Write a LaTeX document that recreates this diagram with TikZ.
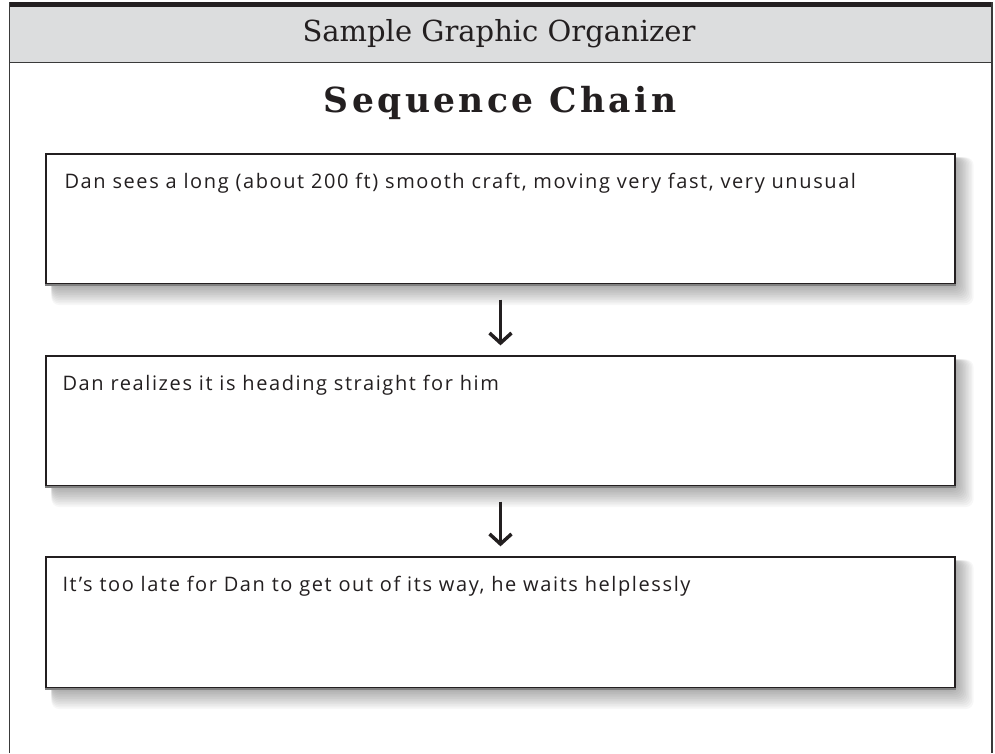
\documentclass[tikz,border=0pt]{standalone}
\usepackage{fontspec}
\usetikzlibrary{arrows.meta}
\newfontfamily\handfont[LetterSpace=8]{Open Sans}
\newfontfamily\headfont{DejaVu Serif}
\newfontfamily\titlefont[LetterSpace=10]{DejaVu Serif}
\definecolor{hdrgray}{HTML}{DCDDDE}
\definecolor{inkdark}{HTML}{231F20}
\definecolor{frameline}{HTML}{3A3A3A}
\tikzset{
  stepbox/.style={draw=inkdark, line width=1.3pt, fill=white, minimum width=909pt, minimum height=130pt, inner sep=0pt},
  boxtext/.style={anchor=west, inner sep=0pt, font=\handfont\fontsize{20}{22}\selectfont, text=inkdark},
  chainarrow/.style={draw=inkdark, line width=3.5pt, -{Straight Barb[length=10pt,width=22pt,line width=3.5pt]}, shorten <=15pt, shorten >=10pt},
}
\newcommand{\softshadow}[1]{%
  \foreach \k in {1,...,12}{
    \fill[black, opacity=0.03, rounded corners=8pt]
      ([xshift=6pt, yshift=-4pt]#1.north west) rectangle ([xshift={1.5pt*\k}, yshift={-1.7pt*\k}]#1.south east);
  }%
}
\begin{document}
\begin{tikzpicture}[x=1pt, y={(0,-1pt)}]
\useasboundingbox (0,0) rectangle (995,753);
% header
\fill[hdrgray] (9.5,7) rectangle (992,62);
\fill[inkdark] (9,2) rectangle (992.5,7);
\draw[frameline, line width=1.5pt] (9.5,62.5) -- (992,62.5);
\draw[frameline, line width=1.5pt] (9.5,2) -- (9.5,753);
\draw[frameline, line width=1.5pt] (992,2) -- (992,753);
\node[font=\headfont\fontsize{29}{32}\selectfont, text=inkdark] (hdr) at (499,34) {Sample Graphic Organizer};
\node[font=\titlefont\bfseries\fontsize{34.5}{38}\selectfont, text=inkdark] (ttl) at (500,103) {Sequence Chain};
% boxes
\coordinate (c1) at (500.5,219);
\coordinate (c2) at (500.5,421);
\coordinate (c3) at (500.5,622.5);
\node[stepbox, minimum height=130pt] (b1) at (c1) {};
\node[stepbox, minimum height=130pt] (b2) at (c2) {};
\node[stepbox, minimum height=131pt] (b3) at (c3) {};
\softshadow{b1}
\softshadow{b2}
\softshadow{b3}
\node[stepbox, minimum height=130pt] at (c1) {};
\node[stepbox, minimum height=130pt] at (c2) {};
\node[stepbox, minimum height=131pt] at (c3) {};
\draw[gray, line width=2pt] (b1.south west) -- (b1.south east);
\draw[gray, line width=2pt] (b2.south west) -- (b2.south east);
\draw[gray, line width=2pt] (b3.south west) -- (b3.south east);
\node[boxtext] (t1) at ([xshift=19pt, yshift=-30pt]b1.north west) {Dan sees a long (about 200 ft) smooth craft, moving very fast, very unusual};
\node[boxtext] (t2) at ([xshift=17pt, yshift=-30pt]b2.north west) {Dan realizes it is heading straight for him};
\node[boxtext] (t3) at ([xshift=17pt, yshift=-30pt]b3.north west) {It’s too late for Dan to get out of its way, he waits helplessly};
% arrows
\draw[chainarrow] (b1.south) -- (b2.north);
\draw[chainarrow] (b2.south) -- (b3.north);
\end{tikzpicture}
\end{document}
